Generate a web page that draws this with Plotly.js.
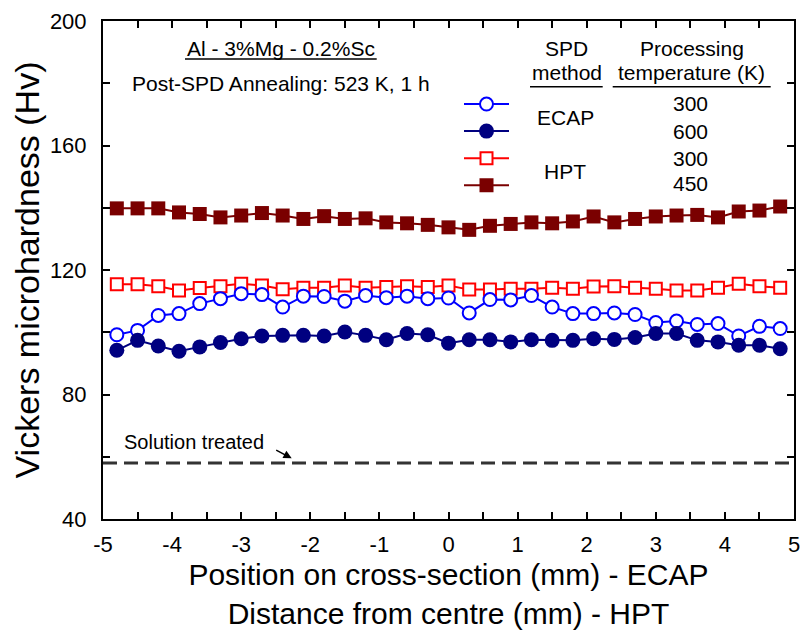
<!DOCTYPE html>
<html>
<head>
<meta charset="utf-8">
<script src="https://cdn.plot.ly/plotly-3.0.1.min.js"></script>
<style>html,body{margin:0;padding:0;background:#fff;}#chart{width:801px;height:630px;}</style>
</head>
<body>
<div id="chart"></div>
<script>
// ---- data ----
var positions = [-4.8,-4.5,-4.2,-3.9,-3.6,-3.3,-3.0,-2.7,-2.4,-2.1,-1.8,-1.5,-1.2,-0.9,-0.6,-0.3,0,0.3,0.6,0.9,1.2,1.5,1.8,2.1,2.4,2.7,3.0,3.3,3.6,3.9,4.2,4.5,4.8];
var ecap300 = [99.2,100.6,105.4,106.0,109.2,110.8,112.4,112.1,108.1,111.6,111.5,110.0,111.8,111.1,111.6,110.8,111.0,106.2,110.5,110.4,111.8,108.1,106.0,106.0,106.2,105.7,103.1,103.6,102.5,102.8,98.8,101.9,101.2];
var ecap600 = [94.2,97.4,95.6,93.9,95.3,96.7,97.9,98.8,99.0,99.0,98.8,100.1,99.0,97.6,99.6,99.2,96.5,97.6,97.6,96.9,97.6,97.4,97.4,97.9,97.7,98.3,99.6,99.6,97.4,96.9,95.8,95.8,94.7];
var hpt300 = [115.4,115.4,114.8,113.4,114.2,114.8,115.6,115.0,113.8,114.3,114.3,115.0,114.3,114.5,114.8,114.5,115.0,113.7,113.7,114.0,114.0,114.3,114.0,114.7,114.8,114.3,114.0,113.4,113.4,114.3,115.6,114.8,114.3];
var hpt450 = [139.8,139.8,139.8,138.5,138.0,136.9,137.5,138.3,137.5,136.4,137.3,136.4,136.6,135.3,135.0,134.5,133.7,132.9,134.2,134.8,135.3,135.0,135.6,137.2,135.3,136.4,137.2,137.5,137.7,136.9,138.8,139.1,140.4];
var solutionTreated = 58;
var xRange = [-5, 5];
var yRange = [40, 200];
var xTickVals = [-5,-4,-3,-2,-1,0,1,2,3,4,5];
var xTickText = ['-5','-4','-3','-2','-1','0','1','2','3','4','5'];
var yTickVals = [40,80,120,160,200];
var spdMethods = ['ECAP','HPT'];
var procTemps = ['300','600','300','450'];

// ---- helpers for paper placement ----
var L = 103, R = 794, T = 21, B = 519;
function px(x){ return (x - L) / (R - L); }
function py(y){ return (B - y) / (B - T); }

var FONT = 'Arial, "Liberation Sans", sans-serif';

var traces = [
  {x: xRange, y: [solutionTreated, solutionTreated], mode: 'lines', showlegend: false, hoverinfo: 'skip',
   line: {color: '#333333', width: 3, dash: '14px,7px'}},
  {x: positions, y: hpt450, mode: 'lines+markers', name: ' ', legendrank: 4,
   line: {color: '#7a0000', width: 2}, marker: {symbol: 'square', size: 14, color: '#7a0000'}},
  {x: positions, y: hpt300, mode: 'lines+markers', name: ' ', legendrank: 3,
   line: {color: '#ff0000', width: 2}, marker: {symbol: 'square', size: 12, color: '#ffffff', line: {color: '#ff0000', width: 2}}},
  {x: positions, y: ecap300, mode: 'lines+markers', name: ' ', legendrank: 1,
   line: {color: '#0000ff', width: 2}, marker: {symbol: 'circle', size: 13, color: '#ffffff', line: {color: '#0000ff', width: 2}}},
  {x: positions, y: ecap600, mode: 'lines+markers', name: '  ', legendrank: 2,
   line: {color: '#000080', width: 2}, marker: {symbol: 'circle', size: 15, color: '#000080'}}
];

function txt(t, x, y, size){
  return {text: t, xref: 'paper', yref: 'paper', x: px(x), y: py(y), xanchor: 'center', yanchor: 'middle',
          showarrow: false, font: {family: FONT, size: size || 21, color: '#000'}};
}

var annotations = [
  txt('Al - 3%Mg - 0.2%Sc', 281, 48),
  txt('Post-SPD Annealing: 523 K, 1 h', 281.3, 83.3),
  txt('SPD', 566.7, 48),
  txt('method', 566.7, 72),
  txt('Processing', 691.7, 48),
  txt('temperature (K)', 691.7, 72),
  txt(spdMethods[0], 565, 117.3),
  txt(spdMethods[1], 565, 171.7),
  txt(procTemps[0], 690.7, 104),
  txt(procTemps[1], 690.7, 131.7),
  txt(procTemps[2], 690.7, 158.3),
  txt(procTemps[3], 690.7, 183.3),
  txt('Solution treated', 194, 441.7, 20),
  {text: '', xref: 'paper', yref: 'paper', x: px(291.7), y: py(458.3), ax: -17, ay: -9,
   showarrow: true, arrowhead: 2, arrowsize: 1.1, arrowwidth: 1.5, arrowcolor: '#000'}
];

function hline(x0, x1, y){
  return {type: 'line', xref: 'paper', yref: 'paper', x0: px(x0), x1: px(x1), y0: py(y), y1: py(y),
          line: {color: '#000', width: 1.5}};
}
var shapes = [hline(185, 376.7, 59), hline(530, 602.7, 86.7), hline(612.7, 770.7, 86.7)];

var layout = {
  width: 801, height: 630,
  margin: {l: L, r: 801 - R, t: T, b: 630 - B, pad: 0},
  paper_bgcolor: '#fff', plot_bgcolor: '#fff',
  font: {family: FONT, color: '#000'},
  showlegend: true,
  legend: {x: px(459), y: py(85.5), xanchor: 'left', yanchor: 'top', bgcolor: 'rgba(0,0,0,0)',
           borderwidth: 0, font: {family: FONT, size: 18.5}, itemwidth: 45, traceorder: 'normal',
           tracegroupgap: 0, itemclick: false},
  xaxis: {range: xRange, tickmode: 'array', tickvals: xTickVals, ticktext: xTickText,
          ticks: 'inside', ticklen: 7, tickwidth: 2, tickcolor: '#000',
          showline: true, linecolor: '#000', linewidth: 2, mirror: 'allticks',
          showgrid: false, zeroline: false, ticklabelstandoff: 5,
          tickfont: {family: FONT, size: 22, color: '#000'},
          minor: {ticks: 'inside', dtick: 0.5, ticklen: 7, tickwidth: 2, tickcolor: '#000', showgrid: false},
          title: {text: 'Position on cross-section (mm) - ECAP<br>Distance from centre (mm) - HPT',
                  font: {family: FONT, size: 30, color: '#000'}, standoff: 9}},
  yaxis: {range: yRange, tickmode: 'array', tickvals: yTickVals,
          ticks: 'inside', ticklen: 7, tickwidth: 2, tickcolor: '#000',
          showline: true, linecolor: '#000', linewidth: 2, mirror: 'allticks',
          showgrid: false, zeroline: false, ticklabelstandoff: 10,
          tickfont: {family: FONT, size: 22, color: '#000'},
          minor: {ticks: 'inside', dtick: 20, ticklen: 7, tickwidth: 2, tickcolor: '#000', showgrid: false},
          title: {text: 'Vickers microhardness (Hv)', font: {family: FONT, size: 34, color: '#000'}, standoff: 0}},
  annotations: annotations,
  shapes: shapes
};

Plotly.newPlot('chart', traces, layout, {displayModeBar: false, staticPlot: true});
</script>
</body>
</html>
